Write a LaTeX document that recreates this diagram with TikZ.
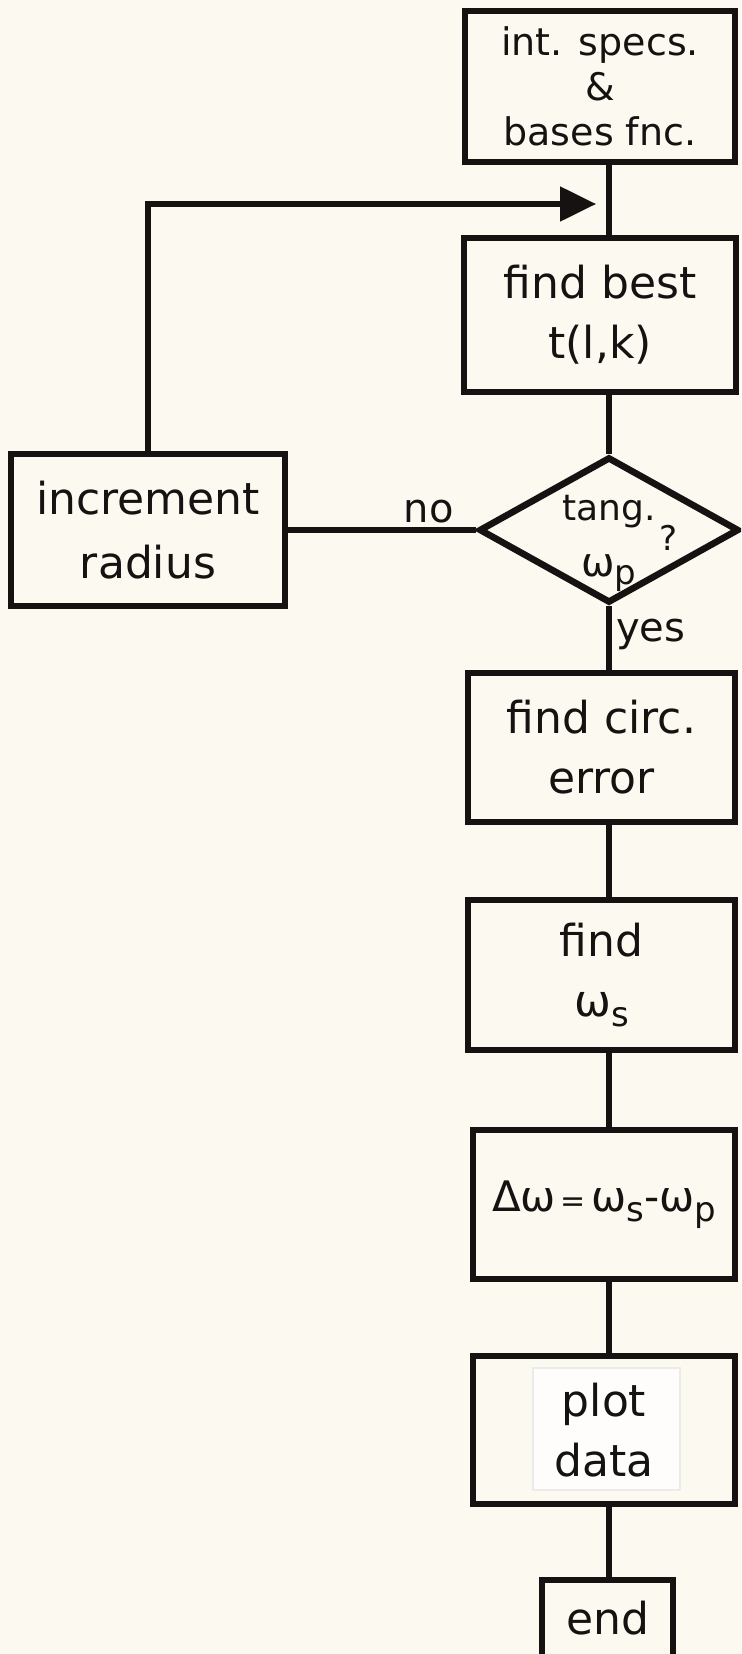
\documentclass[tikz,border=0pt]{standalone}
\usepackage{fontspec}
\setmainfont{DejaVu Sans}
\usetikzlibrary{shapes.geometric,arrows.meta}
\definecolor{paper}{RGB}{252,249,241}
\definecolor{ink}{RGB}{22,18,18}
\newcommand\lowr[1]{\raisebox{-0.45ex}{\fontsize{17}{17}\selectfont #1}}

\begin{document}
\begin{tikzpicture}[x=0.5pt,y=-0.5pt,
    box/.style={draw=ink,line width=3.3pt,rectangle,align=center,inner sep=0pt,text=ink,font=\fontsize{22}{30}\selectfont},
    decision/.style={draw=ink,line width=3.3pt,diamond,align=center,inner sep=0pt,text=ink,font=\fontsize{18}{27}\selectfont},
    wire/.style={draw=ink,line width=3pt},
    lbl/.style={text=ink,font=\fontsize{20}{20}\selectfont,inner sep=2pt}]
    \useasboundingbox (0,0) rectangle (741,1654);
    \fill[paper] (0,0) rectangle (741,1654);
    \clip (0,0) rectangle (741,1654);
    \coordinate (axis) at (609,0);
    \coordinate (tip) at (596,204);
    \node[box,minimum width=135pt,minimum height=75.5pt,font=\fontsize{19}{22.5}\selectfont] (specs) at (600,86.5) {int. specs.\\\&\\bases fnc.};
    \node[box,minimum width=136pt,minimum height=77pt] (best) at (600,315) {find best\\t(l,k)};
    \node[decision,minimum width=130pt,minimum height=73pt] (tang) at (609,530)
        {\raisebox{-8pt}[0pt][0pt]{\begin{tabular}{@{}c@{}}tang.\rlap{\hspace{2pt}\raisebox{-15pt}{\fontsize{17}{17}\selectfont ?}}\\[-6pt]{\fontsize{20}{20}\selectfont ω}\lowr{p}\end{tabular}}};
    \node[box,minimum width=137pt,minimum height=76pt,font=\fontsize{22}{32}\selectfont] (inc) at (148,530) {increment\\radius};
    \node[box,minimum width=133.5pt,minimum height=74.5pt] (circ) at (601.5,747.5) {find circ.\\error};
    \node[box,minimum width=133.5pt,minimum height=75pt] (ws) at (601.5,975) {find\\ω\lowr{s}};
    \node[box,minimum width=131pt,minimum height=74.5pt,font=\fontsize{21}{30}\selectfont] (dw) at (604,1204.5) {Δω{\fontsize{15}{15}\selectfont\,=\,}ω\lowr{s}-ω\lowr{p}};
    \filldraw[fill=white!70!paper,draw=black!8,line width=0.6pt] (533,1368) rectangle (680,1490);
    \node[box,minimum width=131pt,minimum height=74pt] (plot) at (604,1430) {plot\\data};
    \node[box,minimum width=65.5pt,minimum height=38.5pt] (end) at (607.5,1618.5) {end};
    \draw[wire] (specs.south -| axis) -- (best.north -| axis);
    \draw[wire] (best.south -| axis) -- (tang.north);
    \draw[wire] (tang.south) -- node[lbl,pos=0.45,right] {yes} (circ.north -| axis);
    \draw[wire] (tang.west) -- node[lbl,pos=0.25,above] {no} (inc.east);
    \draw[wire,line width=2.6pt,-{Triangle[length=18pt,width=17pt]}] (inc.north) |- (tip);
    \draw[wire] (circ.south -| axis) -- (ws.north -| axis);
    \draw[wire] (ws.south -| axis) -- (dw.north -| axis);
    \draw[wire] (dw.south -| axis) -- (plot.north -| axis);
    \draw[wire] (plot.south -| axis) -- (end.north -| axis);
\end{tikzpicture}
\end{document}
